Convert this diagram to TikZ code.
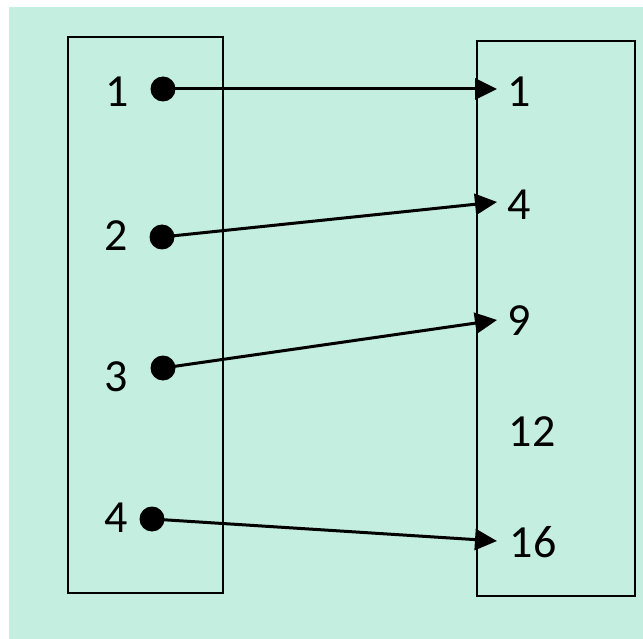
\documentclass[tikz,border=0pt]{standalone}
\usepackage{fontspec}
\setmainfont{Carlito}
\usetikzlibrary{arrows.meta}
\definecolor{mintHTML}{HTML}{C4EEE0}
\tikzset{
  dot_vertex/.style={circle, fill=black, inner sep=0pt, minimum size=25pt},
  num_label/.style={inner sep=0pt, font=\fontsize{46}{50}\selectfont},
  set_box/.style={draw=black, line width=2.5pt},
  map_edge/.style={line width=3pt, -{Triangle[length=22pt, width=21pt]}}
}
\begin{document}
\begin{tikzpicture}[x=1pt, y=-1pt]
        \useasboundingbox (0, 0) rectangle (643, 639);
        \fill[mintHTML] (9, 7) rectangle (643, 639);
        \draw[set_box] (68, 37) rectangle (223, 593);
        \draw[set_box] (477, 41) rectangle (635, 596);
        \node[num_label] (a1) at (117, 92) {1};
        \node[num_label] (a2) at (116, 236) {2};
        \node[num_label] (a3) at (116, 377) {3};
        \node[num_label] (a4) at (116, 518) {4};
        \node[dot_vertex] (1) at (163, 89) {};
        \node[dot_vertex] (2) at (162, 237) {};
        \node[dot_vertex] (3) at (163, 368) {};
        \node[dot_vertex] (4) at (152, 519) {};
        \coordinate (5) at (497, 89);
        \coordinate (6) at (497, 202);
        \coordinate (7) at (497, 320);
        \coordinate (8) at (497, 541);
        \node[num_label] (b1) at (519, 92) {1};
        \node[num_label] (b2) at (519, 205) {4};
        \node[num_label] (b3) at (519, 321) {9};
        \node[num_label] (b4) at (532, 432) {12};
        \node[num_label] (b5) at (533, 542) {16};
        \draw[map_edge] (1.center) -- (5);
        \draw[map_edge] (2.center) -- (6);
        \draw[map_edge] (3.center) -- (7);
        \draw[map_edge] (4.center) -- (8);
    \end{tikzpicture}
\end{document}
